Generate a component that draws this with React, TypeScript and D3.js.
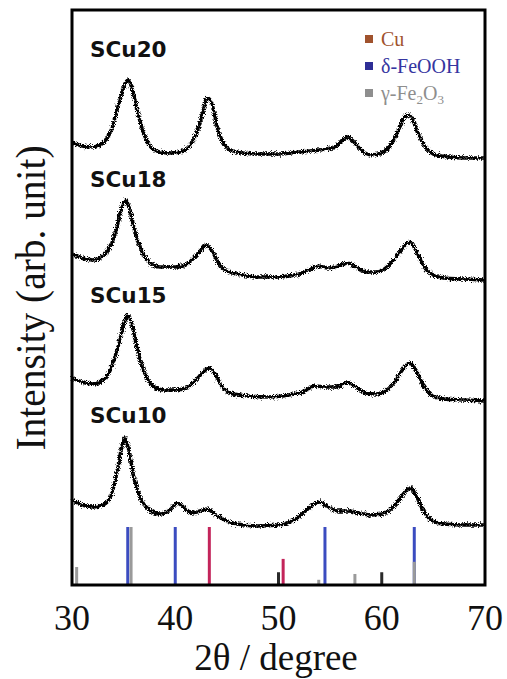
import React from "react";
import * as d3 from "d3";

// ---- data ----
const angleTicks = [30, 40, 50, 60, 70];
const sampleNames = ["SCu20", "SCu18", "SCu15", "SCu10"];
const labelLevels = [528, 398, 282, 162];

const sCu20: [number, number][] = [
  [30, 442], [31, 439], [32, 438], [33, 442], [33.8, 455], [34.5, 480], [35.0, 497], [35.4, 505],
  [35.8, 497], [36.3, 475], [37.0, 450], [37.7, 437], [38.5, 433], [39.5, 432], [40.5, 433],
  [41.3, 438], [42.0, 450], [42.6, 470], [43.1, 487], [43.5, 483], [44.0, 460], [44.6, 443],
  [45.3, 435], [46.5, 432], [48, 431], [50, 431], [52, 433], [54, 435], [55.5, 438], [56.2, 445],
  [56.7, 448], [57.3, 443], [58.0, 435], [59.0, 430], [60.0, 432], [61.0, 442], [61.7, 457],
  [62.2, 468], [62.6, 470], [63.0, 465], [63.6, 450], [64.3, 437], [65.0, 431], [66.5, 428],
  [68, 427], [70, 427],
];
const sCu18: [number, number][] = [
  [30, 331], [31, 327], [32, 325], [33, 329], [33.8, 340], [34.4, 360], [34.9, 380], [35.2, 385],
  [35.6, 375], [36.1, 353], [36.8, 333], [37.6, 322], [38.5, 318], [40, 318], [41, 320],
  [41.8, 327], [42.5, 335], [43.0, 340], [43.5, 335], [44.2, 322], [45.0, 314], [46.5, 310],
  [48, 308], [50, 308], [52, 311], [53, 315], [53.8, 319], [54.8, 317], [55.8, 319], [56.7, 322],
  [57.5, 318], [58.5, 313], [59.5, 313], [60.5, 318], [61.3, 327], [62.0, 337], [62.7, 343],
  [63.3, 335], [64.0, 320], [64.8, 311], [66, 307], [68, 306], [70, 305],
];
const sCu15: [number, number][] = [
  [30, 207], [31, 203], [32, 201], [33, 205], [33.8, 217], [34.5, 240], [35.0, 260], [35.4, 270],
  [35.8, 260], [36.3, 237], [37.0, 213], [37.8, 199], [38.8, 195], [40, 195], [41, 197],
  [42.0, 205], [42.7, 213], [43.3, 217], [43.8, 212], [44.5, 199], [45.3, 192], [47, 189],
  [49, 188], [51, 190], [52.5, 194], [53.5, 199], [54.5, 198], [55.5, 198], [56.7, 202],
  [57.5, 198], [58.5, 192], [59.5, 191], [60.5, 195], [61.3, 204], [62.0, 215], [62.7, 222],
  [63.3, 215], [64.0, 200], [64.8, 190], [66, 186], [68, 185], [70, 184],
];
const sCu10: [number, number][] = [
  [30, 85], [31, 80], [32, 78], [33, 80], [33.8, 90], [34.4, 115], [34.8, 137], [35.1, 147],
  [35.5, 135], [36.0, 107], [36.7, 85], [37.5, 75], [38.5, 71], [39.5, 75], [40.2, 82],
  [40.8, 78], [41.6, 72], [42.4, 74], [43.1, 76], [43.8, 71], [44.8, 65], [46, 61], [48, 59],
  [50, 60], [51.5, 65], [52.5, 73], [53.3, 80], [54.0, 83], [54.8, 78], [55.8, 74], [56.8, 74],
  [57.8, 72], [59, 70], [60, 71], [61, 77], [61.8, 87], [62.4, 95], [62.8, 97], [63.3, 90],
  [64, 75], [64.8, 65], [66, 61], [68, 60], [70, 60],
];
const series = [sCu20, sCu18, sCu15, sCu10];

// reference patterns: [2θ, relative intensity]
const refCu: [number, number][] = [[43.3, 100], [50.45, 45]];
const refFeOOH: [number, number][] = [[35.4, 100], [40.0, 100], [54.5, 100], [63.15, 100]];
const refFe2O3: [number, number][] = [[30.45, 31], [35.72, 100], [53.9, 9], [57.4, 19], [63.15, 40]];
const refOther: [number, number][] = [[50.0, 22], [60.0, 22]];

const legendNames = ["Cu", "δ-FeOOH", "γ-Fe2O3"];

export default function App() {
  const W = 507, H = 679;
  const left = 72, right = 485, top = 10, bottom = 585;
  const x = d3.scaleLinear().domain([30, 70]).range([left, right]);
  const y = d3.scaleLinear().domain([0, 575]).range([bottom, top]);
  const bh = d3.scaleLinear().domain([0, 100]).range([0, 58]);
  const line = d3.line<[number, number]>()
    .x((d) => x(d[0]))
    .y((d) => y(d[1]))
    .curve(d3.curveMonotoneX);

  const bars = (data: [number, number][], color: string, key: string, w = 3) =>
    data.map((d, i) => (
      <rect key={key + i} x={x(d[0]) - w / 2} y={bottom - bh(d[1])} width={w} height={bh(d[1])} fill={color} />
    ));

  const legendColors = ["#a0522d", "#3535a0", "#8e8e8e"];
  const legendSquares = ["#a0522d", "#2e2e96", "#8e8e8e"];

  return (
    <svg width={W} height={H} style={{ position: "absolute", left: 0, top: 0, background: "#fff" }}>
      <defs>
        <filter id="noise" x="-5%" y="-20%" width="110%" height="140%">
          <feTurbulence type="fractalNoise" baseFrequency="1.3" numOctaves="2" seed="4" result="t" />
          <feDisplacementMap in="SourceGraphic" in2="t" scale="6" xChannelSelector="R" yChannelSelector="G" />
        </filter>
      </defs>
      <rect x={0} y={0} width={W} height={H} fill="#fff" />

      {/* curves */}
      <g filter="url(#noise)">
        {series.map((s, i) => (
          <path key={i} d={line(s) || ""} fill="none" stroke="#000" strokeWidth={3.5} strokeLinejoin="round" />
        ))}
      </g>

      {/* sample labels */}
      {sampleNames.map((n, i) => (
        <text key={n} x={x(31.75)} y={y(labelLevels[i])} fontFamily="DejaVu Sans" fontWeight="bold" fontSize={21.5} fill="#111">
          {n}
        </text>
      ))}

      {/* reference bars */}
      {bars(refOther, "#2a2a2a", "o")}
      {bars(refFeOOH, "#3b4cc0", "f")}
      {bars(refCu, "#c3245a", "c")}
      {bars(refFe2O3, "#9a9a9a", "g")}

      {/* legend */}
      {legendNames.map((n, i) => (
        <g key={n}>
          <rect x={365} y={35 + i * 27} width={8} height={8} fill={legendSquares[i]} />
          <text x={381} y={46 + i * 27} fontFamily="Liberation Serif" fontSize={20} fill={legendColors[i]}>
            {i === 2 ? (
              <>
                γ-Fe<tspan fontSize={13} dy={4}>2</tspan>
                <tspan dy={-4}>O</tspan>
                <tspan fontSize={13} dy={4}>3</tspan>
              </>
            ) : (
              n
            )}
          </text>
        </g>
      ))}

      {/* frame */}
      <rect x={left} y={top} width={right - left} height={bottom - top} fill="none" stroke="#000" strokeWidth={3} />

      {/* x ticks */}
      {angleTicks.map((t) => (
        <text key={t} x={x(t)} y={630} textAnchor="middle" fontFamily="Liberation Serif" fontSize={36} fill="#111">
          {t}
        </text>
      ))}
      <text x={276} y={670} textAnchor="middle" fontFamily="Liberation Serif" fontSize={37} fill="#111">
        2θ / degree
      </text>
      <text
        transform={`translate(45, 298) rotate(-90)`}
        textAnchor="middle"
        fontFamily="Liberation Serif"
        fontSize={42}
        textLength={305}
        lengthAdjust="spacingAndGlyphs"
        fill="#111"
      >
        Intensity (arb. unit)
      </text>
    </svg>
  );
}
